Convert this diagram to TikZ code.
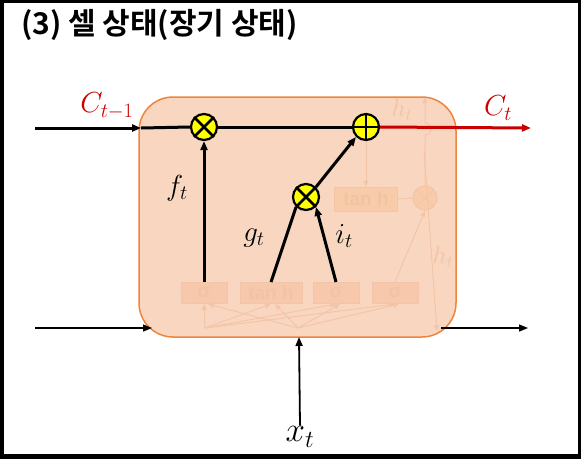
\RequirePackage{fix-cm}
\documentclass[tikz,border=0pt]{standalone}
\usepackage{fontspec}
\usetikzlibrary{arrows.meta}
\newfontfamily\krfont[BoldFont={Noto Sans CJK KR Bold}]{Noto Sans CJK KR}
\newfontfamily\gatefont{Liberation Sans}

\definecolor{cellfill}{RGB}{248,204,176}
\definecolor{celledge}{RGB}{238,132,62}
\definecolor{statered}{RGB}{200,0,0}
\definecolor{fadecol}{RGB}{226,170,138}
\definecolor{fadebox}{RGB}{243,188,152}
\definecolor{fadetext}{RGB}{222,158,120}
\definecolor{fadetanh}{RGB}{250,208,140}
\definecolor{gateyellow}{RGB}{255,255,0}

\tikzset{
  arr/.style={-{Triangle[length=9pt,width=7pt]}},
  farr/.style={-{Triangle[length=6pt,width=5pt]}},
  flow/.style={black, line width=3pt},
  opnode/.style={circle, draw=black, line width=2.2pt, fill=gateyellow, minimum size=26pt, inner sep=0pt},
  fadegate/.style={draw=fadecol, line width=1pt, fill=fadebox, minimum width=46pt, minimum height=21pt, inner sep=0pt, text=fadetext, font=\gatefont\bfseries\fontsize{19}{19}\selectfont},
  fadestroke/.style={fadecol, line width=1pt},
  lbl/.style={font=\fontsize{29}{29}\selectfont}
}

\begin{document}
\begin{tikzpicture}[x=1pt,y=-1pt]
  % Frame of the slide
  \useasboundingbox (0,0) rectangle (581,459);
  \fill[black] (0,0) rectangle (581,3);
  \fill[black] (0,0) rectangle (4,459);
  \fill[black] (578,0) rectangle (581,459);
  \fill[black] (0,454) rectangle (581,459);

  % Title
  \node[anchor=west, inner sep=0pt, font=\krfont\bfseries\fontsize{30}{30}\selectfont] (title) at (21,25) {(3) 셀 상태(장기 상태)};

  % Faded gates under the cell
  \node[fadegate] (sig1) at (204,293) {σ};
  \node[fadegate, minimum width=62pt] (tanh1) at (271,293) {tan h};
  \node[fadegate] (sig2) at (336,293) {σ};
  \node[fadegate] (sig3) at (395,293) {σ};
  \node[fadegate, fill=fadetanh, minimum width=63pt, minimum height=24pt] (tanh2) at (366,199) {tan h};
  \node[circle, draw=fadecol, fill=fadetanh, line width=1.2pt, minimum size=24pt, inner sep=0pt] (mulo) at (425,198) {};
  \draw[fadestroke, line width=1.2pt] (mulo.north west) -- (mulo.south east) (mulo.south west) -- (mulo.north east);

  % Faded input fan
  \coordinate (ha) at (205,328);
  \coordinate (xa) at (298,328);
  \foreach \g in {sig1,tanh1,sig2,sig3}{
    \draw[fadestroke, farr] (ha) -- (\g.south);
    \draw[fadestroke, farr] (xa) -- ([xshift=4pt]\g.south);
  }

  % Faded output path
  \coordinate (hsplit) at (424,150);
  \draw[fadestroke, farr] (366,140) -- (tanh2.north);
  \draw[fadestroke] (tanh2.east) -- (mulo.west);
  \draw[fadestroke, farr] (sig3.north) -- (mulo.south);
  \draw[fadestroke, farr] (mulo.north) -- (425,135) arc[start angle=-90, end angle=90, radius=6pt] -- (425,97);
  \draw[fadestroke, farr] (hsplit) -- (437,331);
  \node[text=fadetext, font=\fontsize{25}{25}\selectfont] (hup) at (402,110) {$h_t$};
  \node[text=fadetext, font=\fontsize{25}{25}\selectfont] (hdown) at (443,257) {$h_t$};

  % Cell body (semi transparent over the faded parts)
  \draw[celledge, line width=1.5pt, fill=cellfill, fill opacity=0.8, rounded corners=34pt] (139,97) rectangle (456,337);

  % Operators
  \node[opnode] (mulf) at (204,127) {};
  \draw[black, line width=2.8pt] (mulf.north west) -- (mulf.south east) (mulf.south west) -- (mulf.north east);
  \node[opnode] (add) at (366,127) {};
  \draw[black, line width=2.8pt] (add.north) -- (add.south) (add.west) -- (add.east);
  \node[opnode] (muli) at (306,197) {};
  \draw[black, line width=2.8pt] (muli.north west) -- (muli.south east) (muli.south west) -- (muli.north east);

  % Cell state line
  \coordinate (cin) at (35,128);
  \coordinate (cout) at (531,128);
  \draw[flow, arr] (cin) -- (141,128);
  \draw[flow] (141,128) -- (mulf.west);
  \draw[flow] (mulf.east) -- (add.west);
  \draw[statered, line width=3pt, arr] (add.east) -- (cout);
  \node[text=statered, lbl] (cprev) at (107,106) {$C_{t-1}$};
  \node[text=statered, lbl] (cnext) at (498,108) {$C_t$};

  % Gate connections
  \draw[flow, arr] (sig1.north) -- (mulf.south);
  \draw[flow] (tanh1.north) -- (muli.south west);
  \draw[flow, arr] (sig2.north) -- (muli.south east);
  \draw[flow, arr] (muli.north east) -- (add.south west);
  \node[lbl] (flab) at (177,188) {$f_t$};
  \node[lbl] (glab) at (254,238) {$g_t$};
  \node[lbl] (ilab) at (344,236) {$i_t$};

  % Hidden state line
  \coordinate (hin) at (35,328);
  \coordinate (hout) at (528,328);
  \draw[black, line width=1.5pt, arr] (hin) -- (152,328);
  \draw[black, line width=1.5pt, arr] (441,328) -- (hout);

  % Input
  \node[font=\fontsize{35}{35}\selectfont, inner sep=1pt] (xin) at (300,437) {$x_t$};
  \draw[black, line width=1.8pt, arr] (xin.north) -- (299,337);
\end{tikzpicture}
\end{document}
